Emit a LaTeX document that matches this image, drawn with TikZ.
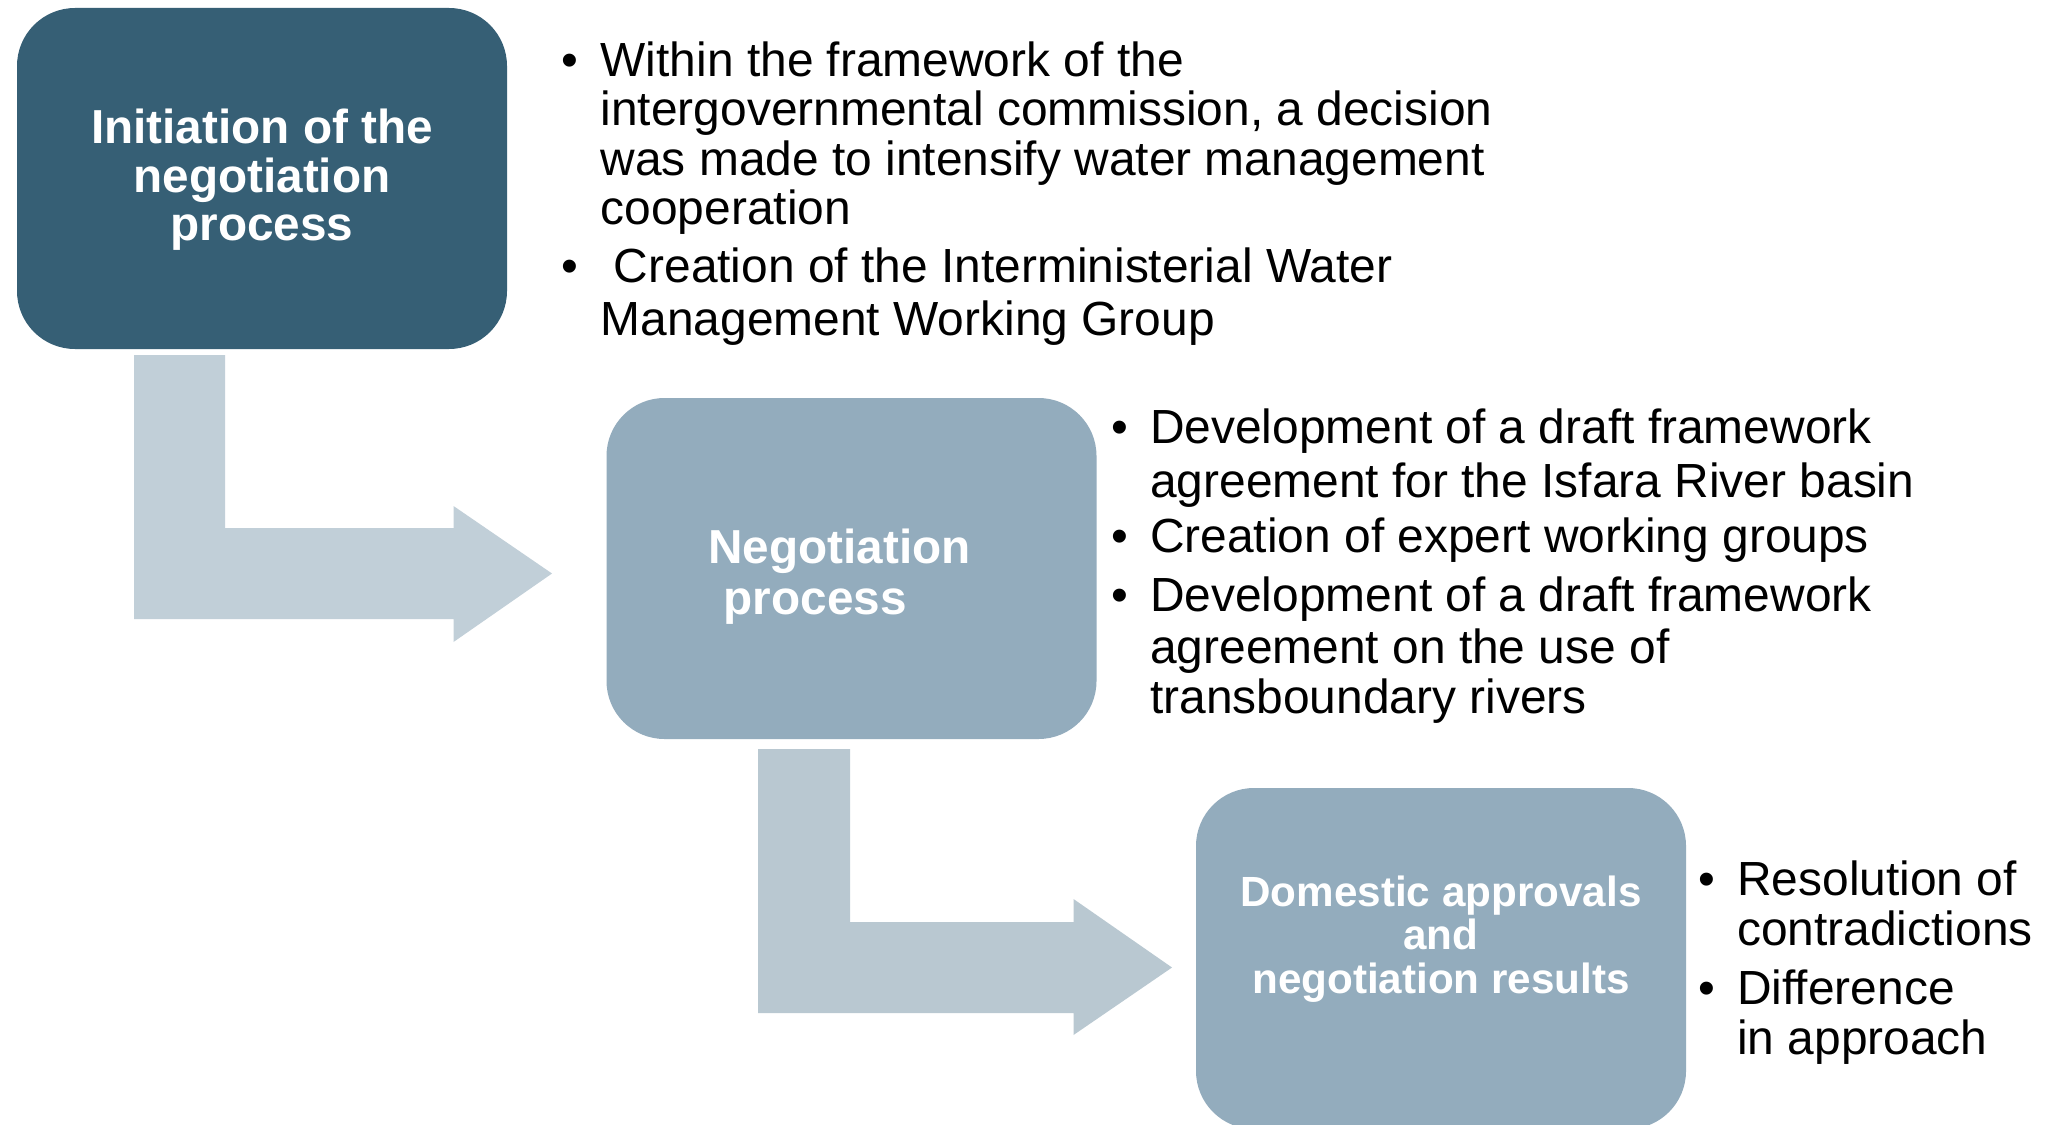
\documentclass[tikz,border=0pt]{standalone}
\usepackage{fontspec}
\setmainfont{Liberation Sans}
\usepackage{array}
\definecolor{darkbox}{HTML}{365F75}
\definecolor{lightbox}{HTML}{93ACBD}
\definecolor{arrowA}{HTML}{C1CFD8}
\definecolor{arrowB}{HTML}{B9C8D1}
\tikzset{
  stagebox/.style={rounded corners=58pt, inner sep=0pt, minimum width=490pt, minimum height=341pt, draw=none},
  bulletblock/.style={anchor=north west, inner sep=0pt, text=black},
  boxtitle/.style={text=white, inner sep=0pt, font=\bfseries},
  blockarrow/.style={draw=none}
}
\newcommand{\bul}{\llap{\textbullet\hspace{22pt}}}
\begin{document}
\begin{tikzpicture}[x=1pt,y=-1pt]
\clip (0,0) rectangle (2049,1124);
\fill[white] (0,0) rectangle (2049,1124);

% block arrows
\fill[arrowA, blockarrow] (134,355) -- (225,355) -- (225,528) -- (453.5,528) -- (453.5,506)
  -- (552,573.5) -- (453.5,642) -- (453.5,619) -- (134,619) -- cycle;
\fill[arrowB, blockarrow] (758,749) -- (850,749) -- (850,922) -- (1073.5,922) -- (1073.5,899)
  -- (1172,967.5) -- (1073.5,1035) -- (1073.5,1013) -- (758,1013) -- cycle;

% boxes
\node[stagebox, fill=darkbox] (b1) at (262,178.5) {};
\node[stagebox, fill=lightbox] (b2) at (851.5,568.5) {};
\node[stagebox, fill=lightbox] (b3) at (1441,958.5) {};

% titles
\node[boxtitle, anchor=north] (h1) at (262,108.4) {\fontsize{47.7}{48}\selectfont
\begin{tabular}{@{}c@{}}Initiation of the\\negotiation\\process\end{tabular}};
\node[boxtitle, anchor=north west] (h2) at (708,527.3) {\fontsize{47.7}{51}\selectfont
\begin{tabular}{@{}l@{}}Negotiation\\\hspace*{15.6pt}process\end{tabular}};
\node[boxtitle, anchor=north] (h3) at (1441,875.5) {\fontsize{42.2}{43.5}\selectfont
\begin{tabular}{@{}c@{}}Domestic approvals\\and\\negotiation results\end{tabular}};

% bullet texts
\node[bulletblock] (t1) at (600.5,41.35) {\fontsize{47.9}{49.5}\selectfont
\begin{tabular}{@{}l@{}}
\bul Within the framework of the\\
intergovernmental commission, a decision\\
was made to intensify water management\\
cooperation\\[8pt]
\bul\hspace*{13.2pt}Creation of the Interministerial Water\\[3pt]
Management Working Group
\end{tabular}};

\node[bulletblock] (t2) at (1150,407.65) {\fontsize{47.9}{50.5}\selectfont
\begin{tabular}{@{}l@{}}
\bul Development of a draft framework\\[4pt]
agreement for the Isfara River basin\\[4.5pt]
\bul Creation of expert working groups\\[8.5pt]
\bul Development of a draft framework\\[1pt]
agreement on the use of\\
transboundary rivers
\end{tabular}};

\node[bulletblock] (t3) at (1737,861) {\fontsize{47.9}{49.5}\selectfont
\begin{tabular}{@{}l@{}}
\bul Resolution of\\
contradictions\\[9.5pt]
\bul Difference\\
in approach
\end{tabular}};
\end{tikzpicture}
\end{document}
